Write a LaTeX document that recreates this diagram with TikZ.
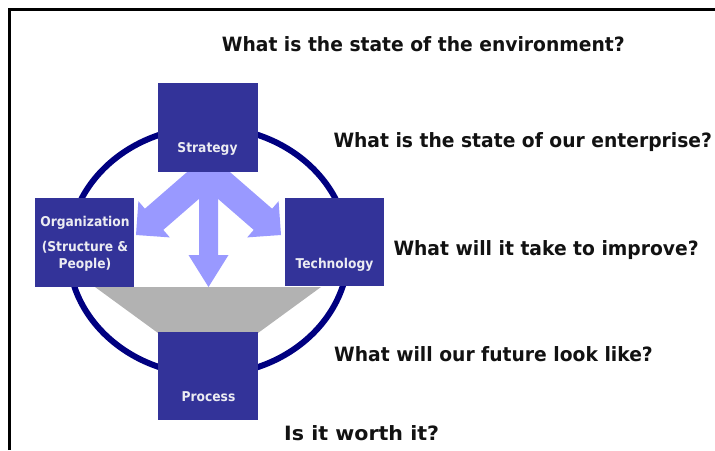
\documentclass[tikz,border=0pt]{standalone}
\usepackage{fontspec}
\setmainfont{DejaVu Sans}
\newfontfamily\labelfont[FakeStretch=0.91]{DejaVu Sans}
\newfontfamily\questionfont[FakeStretch=0.95]{DejaVu Sans}
\usetikzlibrary{calc}
\definecolor{boxblue}{RGB}{51,51,153}
\definecolor{ringnavy}{RGB}{0,0,128}
\definecolor{arrowlilac}{RGB}{153,153,255}
\definecolor{funnelgray}{RGB}{178,178,178}
\definecolor{labelwhite}{RGB}{236,236,242}
\tikzset{
  block/.style={fill=boxblue, draw=none, inner sep=0pt},
  blocktext/.style={font=\labelfont\bfseries\fontsize{13.5}{16}\selectfont, text=labelwhite, inner sep=0pt, anchor=base},
  question/.style={font=\questionfont\bfseries\fontsize{19.7}{22}\selectfont, text=black!93, inner sep=0pt, anchor=base west},
  ring/.style={draw=ringnavy, line width=6pt},
  bigarrow/.style={fill=arrowlilac, draw=none},
  funnel/.style={fill=funnelgray, draw=none},
  frameline/.style={draw=black, line width=2.5pt}
}
\begin{document}
\begin{tikzpicture}[x=1pt, y=-1pt]
\useasboundingbox (0,0) rectangle (715,450);

% frame edges
\draw[frameline] (9.5,450) -- (9.5,9.5) -- (715,9.5);

% ring behind the blocks
\draw[ring] (208.5,251) ellipse [x radius=140, y radius=124];

% grey funnel towards Process
\fill[funnel] (95,287) -- (321,287) -- (258,333) -- (158,333) -- cycle;

% three arrows leaving Strategy
\fill[bigarrow] (199,165) -- (199,255) -- (188.5,255) -- (208.5,287) -- (228.5,255) -- (218,255) -- (218,165) -- cycle;
\fill[bigarrow] (203.9,149.4) -- (272.1,208.7) -- (278.6,201.2) -- (281,235) -- (247.2,237.4) -- (253.7,229.9) -- (185.5,170.6) -- cycle;
\fill[bigarrow] (213.1,149.4) -- (144.9,208.7) -- (138.4,201.2) -- (136,235) -- (169.8,237.4) -- (163.3,229.9) -- (231.5,170.6) -- cycle;

% blocks
\node[block, minimum width=100pt, minimum height=89pt] (strategy) at (208,127.5) {};
\node[block, minimum width=99pt, minimum height=89pt] (organization) at (84.5,242.5) {};
\node[block, minimum width=99pt, minimum height=88pt] (technology) at (334.5,242) {};
\node[block, minimum width=100pt, minimum height=88pt] (process) at (208,376) {};

% block labels
\node[blocktext] (strategy-label) at (207.5,152) {Strategy};
\node[blocktext] (org-label-a) at (85,226) {Organization};
\node[blocktext] (org-label-b) at (85,251) {(Structure \&};
\node[blocktext] (org-label-c) at (85,268) {People)};
\node[blocktext] (technology-label) at (334.5,268) {Technology};
\node[blocktext] (process-label) at (208.5,401) {Process};

% questions
\node[question] (q1) at (221.7,51.7) {What is the state of the environment?};
\node[question] (q2) at (333.3,147.3) {What is the state of our enterprise?};
\node[question] (q3) at (393.3,255.3) {What will it take to improve?};
\node[question] (q4) at (334,361.7) {What will our future look like?};
\node[question] (q5) at (284,440) {\scalebox{1.1}[1]{Is it worth it?}};
\end{tikzpicture}
\end{document}
